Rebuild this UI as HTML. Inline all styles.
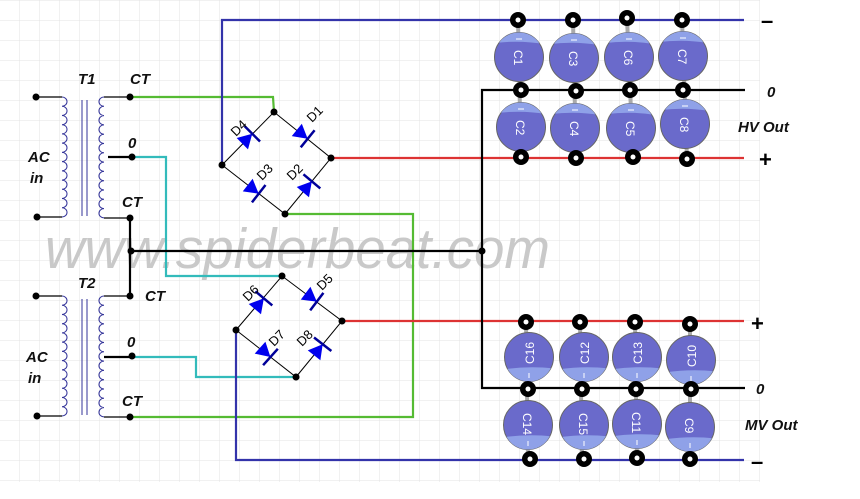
<!DOCTYPE html>
<html><head><meta charset="utf-8"><style>
html,body{margin:0;padding:0;background:#fff;}
svg{display:block;}
text{font-family:"Liberation Sans",sans-serif;}
.lb{font-weight:bold;font-style:italic;font-size:15px;fill:#111;}
.cl{font-size:12px;fill:#fff;}
.dl{font-size:13px;fill:#000;}
</style></head><body>
<svg width="860" height="499" viewBox="0 0 860 499" xmlns="http://www.w3.org/2000/svg">
<defs>
<pattern id="g" width="20" height="20" patternUnits="userSpaceOnUse" y="1">
<path d="M20 0V20M0 20H20" stroke="#e3e3e3" stroke-width="1" fill="none"/>
</pattern>
<g id="dio">
<polygon points="-8,-8 -8,8 6,0" fill="#0000ee"/>
<line x1="6" y1="-11" x2="6" y2="11" stroke="#000099" stroke-width="2.5"/>
</g>
<g id="term"><circle r="8" fill="#000"/><circle r="2.5" fill="#fff"/></g>
<clipPath id="cc"><circle r="24.5"/></clipPath>
<g id="capT">
<circle r="24.5" fill="#6a6acb" stroke="#666" stroke-width="1"/>
<path d="M-30,-30 H30 V-12 Q0,-18 -30,-13Z" fill="#8fa1e8" clip-path="url(#cc)"/>
<line x1="-3" y1="-18" x2="3" y2="-18" stroke="#fff" stroke-width="1"/>
</g>
<g id="capB">
<circle r="24.5" fill="#6a6acb" stroke="#666" stroke-width="1"/>
<path d="M-30,30 H30 V12 Q0,8 -30,13Z" fill="#8fa1e8" clip-path="url(#cc)"/>
<line x1="0" y1="16" x2="0" y2="21" stroke="#fff" stroke-width="1"/>
</g>
</defs>
<rect x="0" y="0" width="760" height="482" fill="url(#g)"/>

<text x="45" y="268" font-size="57" font-style="italic" fill="#c9c9c9" textLength="505" lengthAdjust="spacingAndGlyphs">www.spiderbeat.com</text>

<g fill="none" stroke-width="2.2">
<polyline points="130,97 273,97 274,112" stroke="#55bb33"/>
<polyline points="285,214 413,214 413,417 130,417" stroke="#55bb33"/>
<polyline points="132,157 166,157 166,276 282,276" stroke="#33bbbb"/>
<polyline points="130,357 196,357 196,377 296,377" stroke="#33bbbb"/>
<polyline points="222,165 222,20 744,20" stroke="#3333aa"/>
<polyline points="236,330 236,460 744,460" stroke="#3333aa"/>
<line x1="331" y1="158" x2="744" y2="158" stroke="#dd3333"/>
<line x1="342" y1="321" x2="744" y2="321" stroke="#dd3333"/>
<polyline points="130,218 130,296" stroke="#000"/>
<line x1="131" y1="251" x2="482" y2="251" stroke="#000"/>
<polyline points="745,90 482,90 482,388 745,388" stroke="#000"/>
<line x1="108" y1="157" x2="132" y2="157" stroke="#000"/>
<line x1="104" y1="357" x2="130" y2="357" stroke="#000"/>
</g>

<g stroke="#000" stroke-width="1">
<polyline points="222,165 274,112 331,158 285,214 222,165" fill="none"/>
<polyline points="236,330 282,276 342,321 296,377 236,330" fill="none"/>
</g>
<use href="#dio" transform="translate(248,138) rotate(-45)"/>
<use href="#dio" transform="translate(303,135) rotate(39)"/>
<use href="#dio" transform="translate(254,190) rotate(38)"/>
<use href="#dio" transform="translate(308,186) rotate(-50)"/>
<use href="#dio" transform="translate(260,303) rotate(-50)"/>
<use href="#dio" transform="translate(312,298) rotate(37)"/>
<use href="#dio" transform="translate(266,353) rotate(42)"/>
<use href="#dio" transform="translate(319,349) rotate(-52)"/>
<g class="dl">
<text transform="translate(236,137) rotate(-45)">D4</text>
<text transform="translate(312,123) rotate(-45)">D1</text>
<text transform="translate(262,181) rotate(-45)">D3</text>
<text transform="translate(292,181) rotate(-45)">D2</text>
<text transform="translate(248,302) rotate(-45)">D6</text>
<text transform="translate(322,291) rotate(-45)">D5</text>
<text transform="translate(274,347) rotate(-45)">D7</text>
<text transform="translate(302,347) rotate(-45)">D8</text>
</g>
<g fill="#000">
<circle cx="274" cy="112" r="3.5"/><circle cx="222" cy="165" r="3.5"/><circle cx="331" cy="158" r="3.5"/><circle cx="285" cy="214" r="3.5"/>
<circle cx="282" cy="276" r="3.5"/><circle cx="236" cy="330" r="3.5"/><circle cx="342" cy="321" r="3.5"/><circle cx="296" cy="377" r="3.5"/>
<circle cx="131" cy="251" r="3.5"/><circle cx="482" cy="251" r="3.5"/>
</g>

<g id="tx">
<g fill="none" stroke="#000" stroke-width="1.2">
<line x1="36" y1="97" x2="62" y2="97"/><line x1="37" y1="217" x2="62" y2="217"/>
<line x1="104" y1="97" x2="130" y2="97"/><line x1="104" y1="218" x2="130" y2="218"/>
</g>
<path d="M62,97 a5,4.6 0 0 1 0,9.23 a5,4.6 0 0 1 0,9.23 a5,4.6 0 0 1 0,9.23 a5,4.6 0 0 1 0,9.23 a5,4.6 0 0 1 0,9.23 a5,4.6 0 0 1 0,9.23 a5,4.6 0 0 1 0,9.23 a5,4.6 0 0 1 0,9.23 a5,4.6 0 0 1 0,9.23 a5,4.6 0 0 1 0,9.23 a5,4.6 0 0 1 0,9.23 a5,4.6 0 0 1 0,9.23 a5,4.6 0 0 1 0,9.23" fill="none" stroke="#333399" stroke-width="1"/>
<path d="M104,97 a5,4.6 0 0 0 0,9.3 a5,4.6 0 0 0 0,9.3 a5,4.6 0 0 0 0,9.3 a5,4.6 0 0 0 0,9.3 a5,4.6 0 0 0 0,9.3 a5,4.6 0 0 0 0,9.3 a5,4.6 0 0 0 0,9.3 a5,4.6 0 0 0 0,9.3 a5,4.6 0 0 0 0,9.3 a5,4.6 0 0 0 0,9.3 a5,4.6 0 0 0 0,9.3 a5,4.6 0 0 0 0,9.3 a5,4.6 0 0 0 0,9.3" fill="none" stroke="#333399" stroke-width="1"/>
<line x1="82" y1="100" x2="82" y2="216" stroke="#333399" stroke-width="1"/>
<line x1="87" y1="100" x2="87" y2="216" stroke="#333399" stroke-width="1"/>
<g fill="#000"><circle cx="36" cy="97" r="3.5"/><circle cx="37" cy="217" r="3.5"/><circle cx="130" cy="97" r="3.5"/><circle cx="132" cy="157" r="3.5"/><circle cx="130" cy="218" r="3.5"/></g>
</g>
<use href="#tx" transform="translate(0,199)"/>

<g class="lb">
<text x="78" y="84">T1</text>
<text x="130" y="84">CT</text>
<text x="128" y="148">0</text>
<text x="122" y="207">CT</text>
<text x="28" y="162">AC</text>
<text x="30" y="183">in</text>
<text x="78" y="288">T2</text>
<text x="145" y="301">CT</text>
<text x="127" y="347">0</text>
<text x="122" y="406">CT</text>
<text x="26" y="362">AC</text>
<text x="28" y="383">in</text>
<text x="767" y="97">0</text>
<text x="738" y="132">HV Out</text>
<text x="756" y="394">0</text>
<text x="745" y="430">MV Out</text>
</g>
<g font-weight="bold" font-size="22" fill="#000" font-family="Liberation Sans,sans-serif">
<text x="761" y="28">–</text>
<text x="759" y="167">+</text>
<text x="751" y="331">+</text>
<text x="751" y="469">–</text>
</g>

<g stroke="#aaa" stroke-width="4">
<line x1="518" y1="20" x2="521" y2="157"/><line x1="573" y1="20" x2="576" y2="158"/>
<line x1="627" y1="18" x2="633" y2="157"/><line x1="682" y1="20" x2="687" y2="159"/>
<line x1="526" y1="322" x2="528" y2="459"/><line x1="580" y1="322" x2="582" y2="459"/>
<line x1="635" y1="322" x2="637" y2="459"/><line x1="690" y1="322" x2="690" y2="459"/>
</g>
<use href="#capT" x="519" y="57"/><use href="#capT" x="574" y="58"/><use href="#capT" x="629" y="57"/><use href="#capT" x="683" y="56"/>
<use href="#capT" x="521" y="127"/><use href="#capT" x="575" y="128"/><use href="#capT" x="631" y="128"/><use href="#capT" x="685" y="124"/>
<use href="#capB" x="529" y="357"/><use href="#capB" x="584" y="357"/><use href="#capB" x="637" y="357"/><use href="#capB" x="691" y="360"/>
<use href="#capB" x="528" y="425"/><use href="#capB" x="584" y="425"/><use href="#capB" x="637" y="424"/><use href="#capB" x="690" y="427"/>
<g class="cl">
<text transform="translate(514,50) rotate(90)">C1</text>
<text transform="translate(569,51) rotate(90)">C3</text>
<text transform="translate(624,50) rotate(90)">C6</text>
<text transform="translate(678,49) rotate(90)">C7</text>
<text transform="translate(516,120) rotate(90)">C2</text>
<text transform="translate(570,121) rotate(90)">C4</text>
<text transform="translate(626,121) rotate(90)">C5</text>
<text transform="translate(680,117) rotate(90)">C8</text>
<text transform="translate(534,364) rotate(-90)">C16</text>
<text transform="translate(589,364) rotate(-90)">C12</text>
<text transform="translate(642,364) rotate(-90)">C13</text>
<text transform="translate(696,367) rotate(-90)">C10</text>
<text transform="translate(523,413) rotate(90)">C14</text>
<text transform="translate(579,413) rotate(90)">C15</text>
<text transform="translate(632,412) rotate(90)">C11</text>
<text transform="translate(685,418) rotate(90)">C9</text>
</g>
<use href="#term" x="518" y="20"/><use href="#term" x="573" y="20"/><use href="#term" x="627" y="18"/><use href="#term" x="682" y="20"/>
<use href="#term" x="521" y="90"/><use href="#term" x="576" y="91"/><use href="#term" x="630" y="90"/><use href="#term" x="683" y="90"/>
<use href="#term" x="521" y="157"/><use href="#term" x="576" y="158"/><use href="#term" x="633" y="157"/><use href="#term" x="687" y="159"/>
<use href="#term" x="526" y="322"/><use href="#term" x="580" y="322"/><use href="#term" x="635" y="322"/><use href="#term" x="690" y="324"/>
<use href="#term" x="528" y="389"/><use href="#term" x="582" y="389"/><use href="#term" x="636" y="389"/><use href="#term" x="691" y="389"/>
<use href="#term" x="530" y="459"/><use href="#term" x="584" y="459"/><use href="#term" x="637" y="458"/><use href="#term" x="690" y="459"/>
</svg>
</body></html>
